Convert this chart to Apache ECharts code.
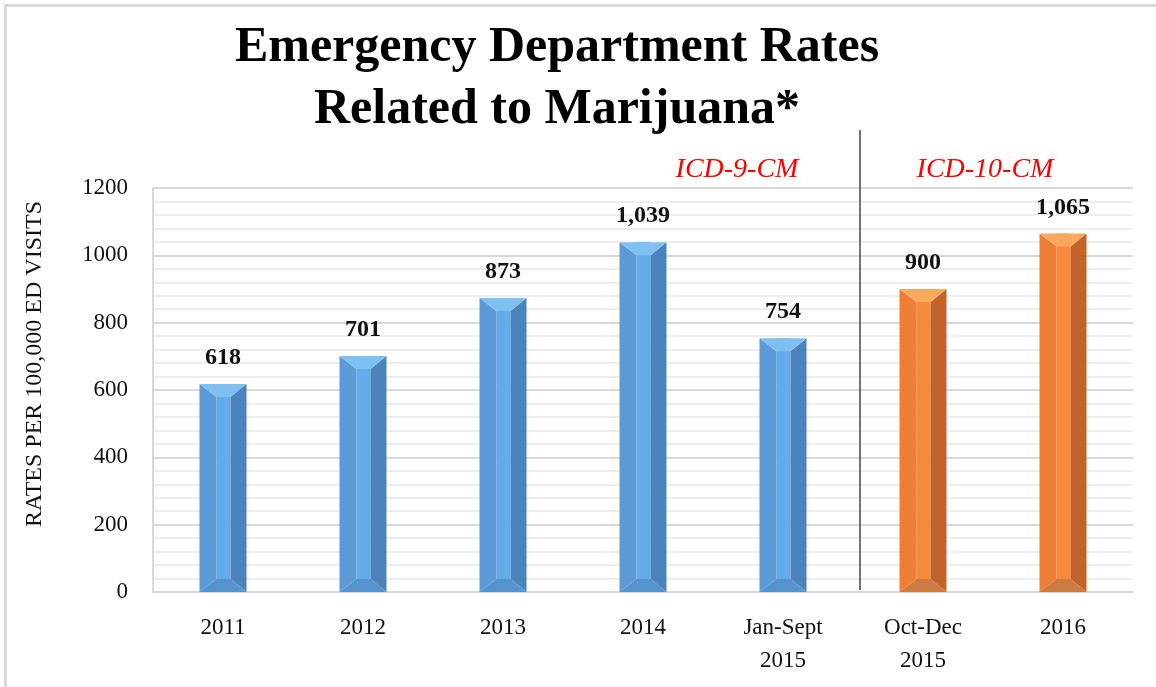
<!DOCTYPE html>
<html>
<head>
<meta charset="utf-8">
<script src="https://cdn.jsdelivr.net/npm/echarts@6/dist/echarts.min.js"></script>
<style>
  html, body { margin: 0; padding: 0; background: #fff; }
  #chart { width: 1156px; height: 687px; }
</style>
</head>
<body>
<div id="chart"></div>
<script>
const categories = ["2011", "2012", "2013", "2014", "Jan-Sept\n2015", "Oct-Dec\n2015", "2016"];
const rates = [618, 701, 873, 1039, 754, 900, 1065];
const codeSets = ["ICD-9-CM", "ICD-9-CM", "ICD-9-CM", "ICD-9-CM", "ICD-9-CM", "ICD-10-CM", "ICD-10-CM"];
const yTicks = [0, 200, 400, 600, 800, 1000, 1200];

const serif = "'Liberation Serif', 'DejaVu Serif', serif";

const palettes = {
  "ICD-9-CM": { left: "#5B9AD6", mid: "#64ABEA", right: "#4B83BC", top: "#7FC0F2", bottom: "#5592CE" },
  "ICD-10-CM": { left: "#EE7E33", mid: "#FA8A3B", right: "#C2632A", top: "#F9A95E", bottom: "#CB7A42" }
};

const fmt = (v) => v.toLocaleString("en-US");

function renderBar(params, api) {
  const idx = api.value(0);
  const val = api.value(1);
  const topPt = api.coord([idx, val]);
  const basePt = api.coord([idx, 0]);
  const w = 47, b1 = 17, b2 = 16, d = 13;
  const x0 = topPt[0] - w / 2, x1 = topPt[0] + w / 2;
  const top = topPt[1], bot = basePt[1];
  const c = palettes[codeSets[idx]];
  return {
    type: "group",
    children: [
      { type: "rect", shape: { x: x0 + b1, y: top, width: w - b1 - b2, height: bot - top }, style: { fill: c.mid } },
      { type: "polygon", shape: { points: [[x0, top], [x0 + b1, top + d], [x0 + b1, bot - d], [x0, bot]] }, style: { fill: c.left } },
      { type: "polygon", shape: { points: [[x1, top], [x1 - b2, top + d], [x1 - b2, bot - d], [x1, bot]] }, style: { fill: c.right } },
      { type: "polygon", shape: { points: [[x0, top], [x1, top], [x1 - b2, top + d], [x0 + b1, top + d]] }, style: { fill: c.top } },
      { type: "polygon", shape: { points: [[x0, bot], [x1, bot], [x1 - b2, bot - d], [x0 + b1, bot - d]] }, style: { fill: c.bottom } },
      {
        type: "text",
        x: topPt[0], y: top - 26,
        style: {
          text: fmt(val), align: "center", verticalAlign: "middle",
          font: "bold 24px " + serif, fill: "#111"
        }
      }
    ]
  };
}

const chart = echarts.init(document.getElementById("chart"));
chart.setOption({
  animation: false,
  title: {
    text: "Emergency Department Rates\nRelated to Marijuana*",
    left: 552, top: 12, textAlign: "center",
    textStyle: { fontFamily: serif, fontWeight: "bold", fontSize: 50, lineHeight: 62, color: "#000" }
  },
  grid: { left: 153, right: 23, top: 188, bottom: 95 },
  xAxis: {
    type: "category",
    data: categories,
    axisTick: { show: false },
    axisLine: { lineStyle: { color: "#D9D9D9", width: 2 } },
    axisLabel: { fontFamily: serif, fontSize: 23, color: "#111", lineHeight: 33, margin: 19 }
  },
  yAxis: {
    type: "value",
    min: yTicks[0], max: yTicks[yTicks.length - 1], interval: 200,
    axisLine: { show: true, lineStyle: { color: "#D9D9D9", width: 2 } },
    axisTick: { show: false },
    axisLabel: { fontFamily: serif, fontSize: 23, color: "#111", margin: 25, formatter: (v) => String(v) },
    splitLine: { lineStyle: { color: "#D9D9D9", width: 2 } },
    minorTick: { show: false, splitNumber: 5 },
    minorSplitLine: { show: true, lineStyle: { color: "#EEEEEE", width: 2 } }
  },
  series: [{
    type: "custom",
    renderItem: renderBar,
    data: rates.map((v, i) => [i, v]),
    z: 5
  }],
  graphic: [
    { type: "rect", shape: { x: 5.5, y: 5.5, width: 1200, height: 800 }, style: { fill: "none", stroke: "#D9D9D9", lineWidth: 3 }, z: 100 },
    { type: "text", x: 35, y: 364, rotation: Math.PI / 2, style: { text: "RATES PER 100,000 ED VISITS", align: "center", verticalAlign: "middle", font: "24px " + serif, fill: "#111" }, z: 50 },
    { type: "line", shape: { x1: 860, y1: 130, x2: 860, y2: 590 }, style: { stroke: "#444", lineWidth: 1.5 }, z: 50 },
    { type: "text", x: 737, y: 170, style: { text: "ICD-9-CM", align: "center", verticalAlign: "middle", font: "italic 28px " + serif, fill: "#FF0000" }, z: 50 },
    { type: "text", x: 985, y: 170, style: { text: "ICD-10-CM", align: "center", verticalAlign: "middle", font: "italic 28px " + serif, fill: "#FF0000" }, z: 50 }
  ]
});
</script>
</body>
</html>
